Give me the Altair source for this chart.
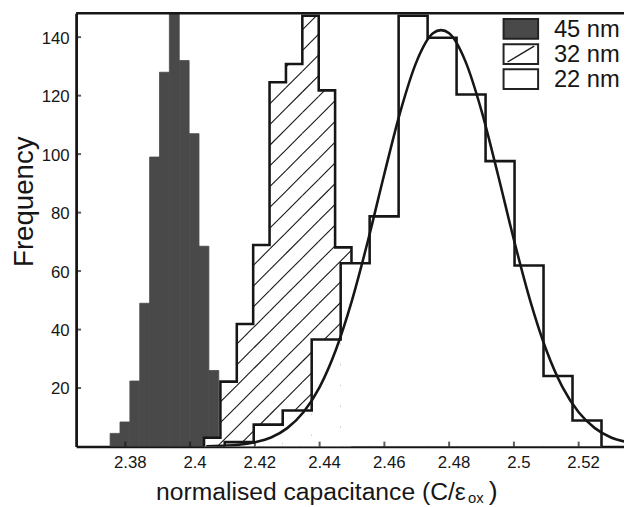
import altair as alt
import pandas as pd

FONT = "Liberation Sans"
DARK = "#494949"
INK = "#161616"

# ---------------- data ----------------
x_ticks = [2.38, 2.40, 2.42, 2.44, 2.46, 2.48, 2.50, 2.52]
y_ticks = [20, 40, 60, 80, 100, 120, 140]

nm45_start, nm45_width = 2.3753, 0.00305
nm45_counts = [4.5, 8.4, 22.4, 49, 99, 128, 160, 132, 107, 68.5, 26]

nm32_start, nm32_width = 2.4043, 0.00506
nm32_counts = [3, 22.2, 41.9, 68.9, 124.6, 130.8, 147.3, 121.8, 68.1]

nm22_start, nm22_width = 2.4107, 0.00895
nm22_counts = [1.5, 7.5, 12.3, 36.6, 62.7, 78.7, 147.3, 139.8, 120.4, 97.6, 61.9, 24.1, 8.9]

fit_x = [2.405, 2.410, 2.415, 2.420, 2.425, 2.430, 2.435, 2.440, 2.445, 2.450,
         2.455, 2.460, 2.465, 2.470, 2.475, 2.4775, 2.480, 2.485, 2.490, 2.495,
         2.500, 2.505, 2.510, 2.515, 2.520, 2.525, 2.530, 2.535]
fit_y = [0.1, 0.3, 0.6, 1.5, 3.1, 6.3, 11.7, 20.3, 33.0, 50.0,
         70.7, 93.3, 114.8, 131.8, 141.3, 142.4, 141.3, 131.8, 114.8, 93.3,
         70.7, 50.0, 33.0, 20.3, 11.7, 6.3, 3.1, 1.5]

legend_labels = ["45 nm", "32 nm", "22 nm"]
legend_fills = [DARK, "white", "white"]

# ---------------- layout ----------------
W, H = 555, 439
XMIN, XMAX = 2.3648, 2.5340
YMAX = 148.2
XS = alt.Scale(domain=[XMIN, XMAX], nice=False, zero=False)
YS = alt.Scale(domain=[0, YMAX], nice=False, zero=False)

xaxis = alt.Axis(values=x_ticks, format=".2~f", title=None, grid=False, ticks=False,
                 tickSize=0, domainWidth=2.6, domainColor=INK, labelFont=FONT,
                 labelFontSize=17, labelColor=INK, labelPadding=8, labelOffset=4.5,
                 labelFlush=False, labelOverlap=False)
yaxis = alt.Axis(values=y_ticks, title=None, grid=False, ticks=False, tickSize=0,
                 domainWidth=2.8, domainColor=INK, labelFont=FONT, labelFontSize=17,
                 labelColor=INK, labelPadding=7, labelOffset=1, labelOverlap=False)


def X(f):
    return alt.X(f, scale=XS, axis=xaxis)


def Y(f):
    return alt.Y(f, scale=YS, axis=yaxis)


def bins(start, width, counts):
    return pd.DataFrame({
        "x0": [start + i * width for i in range(len(counts))],
        "x1": [start + (i + 1) * width for i in range(len(counts))],
        "count": counts,
        "zero": [0] * len(counts),
    })


def outline(start, width, counts):
    xs, ys = [start], [0]
    for i, c in enumerate(counts):
        xs += [start + i * width, start + (i + 1) * width]
        ys += [c, c]
    xs.append(start + len(counts) * width)
    ys.append(0)
    return pd.DataFrame({"x": xs, "y": ys, "i": list(range(len(xs)))})


def hatch(start, width, counts, spacing=21.0, phase=4.0):
    kx = W / (XMAX - XMIN)
    ky = H / YMAX
    rows = []
    for i, c in enumerate(counts):
        u0 = (start + i * width - XMIN) * kx
        u1 = (start + (i + 1) * width - XMIN) * kx
        vt = min(c, YMAX) * ky
        for k in range(-80, 80):
            b = k * spacing + phase
            us = max(u0, -b)
            ue = min(u1, vt - b)
            if ue > us:
                rows.append({
                    "x": XMIN + us / kx, "y": (us + b) / ky,
                    "x2": XMIN + ue / kx, "y2": (ue + b) / ky,
                })
    return pd.DataFrame(rows)


df45 = bins(nm45_start, nm45_width, nm45_counts)
df32 = bins(nm32_start, nm32_width, nm32_counts)
df22 = bins(nm22_start, nm22_width, nm22_counts)

l45 = alt.Chart(df45).mark_rect(color=DARK, stroke=DARK, strokeWidth=0.8, clip=True).encode(
    x=X("x0:Q"), x2="x1:Q", y=Y("count:Q"), y2="zero:Q")

w32 = alt.Chart(df32).mark_rect(color="white", clip=True).encode(
    x=X("x0:Q"), x2="x1:Q", y=Y("count:Q"), y2="zero:Q")

h32 = alt.Chart(hatch(nm32_start, nm32_width, nm32_counts)).mark_rule(
    color=INK, strokeWidth=1.1, clip=True).encode(
    x=X("x:Q"), x2="x2:Q", y=Y("y:Q"), y2="y2:Q")

o32 = alt.Chart(outline(nm32_start, nm32_width, nm32_counts)).mark_line(
    color=INK, strokeWidth=2.6, clip=True, strokeJoin="miter").encode(
    x=X("x:Q"), y=Y("y:Q"), order="i:Q")

w22 = alt.Chart(df22).mark_rect(color="white", clip=True).encode(
    x=X("x0:Q"), x2="x1:Q", y=Y("count:Q"), y2="zero:Q")

o22 = alt.Chart(outline(nm22_start, nm22_width, nm22_counts)).mark_line(
    color=INK, strokeWidth=2.6, clip=True, strokeJoin="miter").encode(
    x=X("x:Q"), y=Y("y:Q"), order="i:Q")

fit = alt.Chart(pd.DataFrame({"x": fit_x, "y": fit_y})).mark_line(
    color=INK, strokeWidth=2.6, clip=True, interpolate="monotone").encode(
    x=X("x:Q"), y=Y("y:Q"))

one = pd.DataFrame({"a": [0]})
top = alt.Chart(one).mark_rule(color=INK, strokeWidth=2.6).encode(
    x=alt.value(0), x2=alt.value(W), y=alt.value(0))

xt = alt.Chart(pd.DataFrame({"v": x_ticks})).mark_tick(
    orient="vertical", size=5, thickness=2, color=INK).encode(
    x=X("v:Q"), y=alt.value(H - 2.5))
yt = alt.Chart(pd.DataFrame({"v": y_ticks})).mark_tick(
    orient="horizontal", size=5, thickness=2, color=INK).encode(
    y=Y("v:Q"), x=alt.value(2.5))

# legend (drawn in pixel space, top right)
legend_layers = []
for i, (lab, fill) in enumerate(zip(legend_labels, legend_fills)):
    y0 = 6 + 25.4 * i
    legend_layers.append(alt.Chart(one).mark_rect(
        fill=fill, stroke="#222", strokeWidth=2).encode(
        x=alt.value(433), x2=alt.value(468), y=alt.value(y0), y2=alt.value(y0 + 20)))
    if i == 1:
        legend_layers.append(alt.Chart(one).mark_rule(color=INK, strokeWidth=1.3).encode(
            x=alt.value(437), x2=alt.value(464), y=alt.value(y0 + 18), y2=alt.value(y0 + 2)))
    legend_layers.append(alt.Chart(one).mark_text(
        text=lab, align="left", baseline="middle", font=FONT, fontSize=24,
        color=INK).encode(x=alt.value(484), y=alt.value(y0 + 11)))

# axis titles
xtitle = alt.Chart(one).mark_text(
    text="normalised capacitance (C/\u03b5", align="left", baseline="alphabetic",
    font=FONT, fontSize=25, color=INK).encode(x=alt.value(81), y=alt.value(H + 54))
xsub = alt.Chart(one).mark_text(
    text="ox", align="left", baseline="alphabetic",
    font=FONT, fontSize=15, color=INK).encode(x=alt.value(397), y=alt.value(H + 57))
xclose = alt.Chart(one).mark_text(
    text=")", align="left", baseline="alphabetic",
    font=FONT, fontSize=27, color=INK).encode(x=alt.value(418), y=alt.value(H + 54))
ytitle = alt.Chart(one).mark_text(
    text="Frequency", align="center", baseline="alphabetic", angle=270,
    font=FONT, fontSize=28, color=INK).encode(x=alt.value(-44), y=alt.value(191))

chart = alt.layer(
    l45, w32, h32, o32, w22, o22, fit, top, xt, yt,
    *legend_layers, xtitle, xsub, xclose, ytitle
).properties(
    width=W, height=H,
    padding={"left": 69, "top": 2, "right": 0, "bottom": 57},
    autosize=alt.AutoSizeParams(type="none"),
).configure_view(stroke=None)

chart.save("out.html", embed_options={"renderer": "svg", "actions": False})
